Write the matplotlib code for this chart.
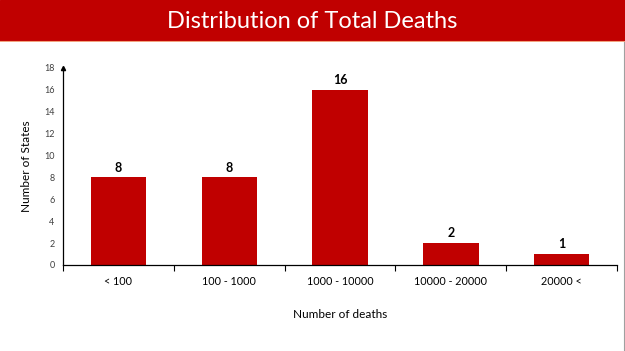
import matplotlib
matplotlib.use("Agg")
import matplotlib.pyplot as plt
from matplotlib.lines import Line2D
import numpy as np

# Data
categories = ["< 100", "100 - 1000", "1000 - 10000", "10000 - 20000", "20000 <"]
states = [8, 8, 16, 2, 1]
y_ticks = [0, 2, 4, 6, 8, 10, 12, 14, 16, 18]

RED = "#C00000"
plt.rcParams["font.family"] = ["Lato", "DejaVu Sans"]

fig = plt.figure(figsize=(6.25, 3.51), dpi=100)

# header band
band = fig.add_axes([0, 1 - 42 / 351, 1, 42 / 351])
band.set_axis_off()
band.add_patch(plt.Rectangle((0, 0), 1, 1, color=RED, transform=band.transAxes))
band.axhline(0, color="#F2A27E", linewidth=1.5)
fig.text(0.5, 1 - 21 / 351, "Distribution of Total Deaths", ha="center", va="center",
         color="white", fontsize=17)

# thin slide border on the right
fig.add_artist(Line2D([623.5 / 625, 623.5 / 625], [0, 1 - 42 / 351],
                      transform=fig.transFigure, color="#A0A0A0", linewidth=0.8))

ax = fig.add_axes([63 / 625, 1 - 265 / 351, (617 - 63) / 625, (265 - 68) / 351])
x = np.arange(len(categories))
bars = ax.bar(x, states, width=0.5, color=RED)
for b, v in zip(bars, states):
    ax.text(b.get_x() + b.get_width() / 2, v + 0.35, str(v), ha="center", va="bottom",
            fontsize=9, fontweight="bold")

ax.set_xlim(-0.5, len(categories) - 0.5)
ax.set_ylim(0, 18)
ax.set_yticks(y_ticks)
ax.set_yticklabels([str(t) for t in y_ticks], fontsize=6.5, color="#404040")
ax.set_xticks(x)
ax.set_xticklabels(categories, fontsize=7.8)
ax.tick_params(axis="x", length=0, pad=8)
ax.tick_params(axis="y", length=0, pad=6)
# boundary ticks between categories
ax.set_xticks(np.arange(-0.5, len(categories)), minor=True)
ax.tick_params(axis="x", which="minor", length=4, width=0.8, direction="out")

for s in ["top", "right"]:
    ax.spines[s].set_visible(False)
ax.spines["left"].set_linewidth(0.9)
ax.spines["bottom"].set_linewidth(0.9)
ax.plot(-0.5, 18, marker="^", color="black", markersize=3, clip_on=False)

ax.set_ylabel("Number of States", fontsize=8.5, labelpad=9)
ax.set_xlabel("Number of deaths", fontsize=8.5, labelpad=16)

fig.savefig("out.png", dpi=100)
